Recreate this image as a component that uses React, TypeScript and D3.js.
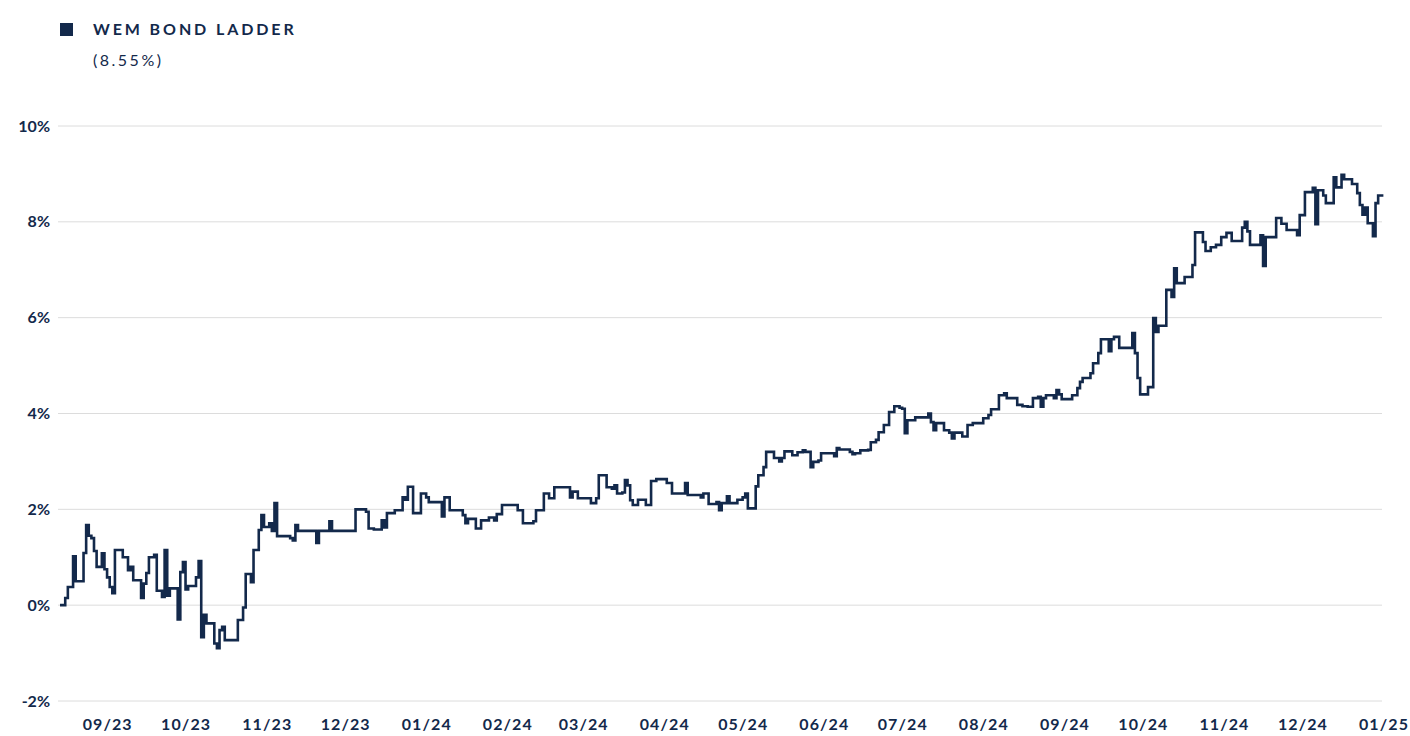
import React from "react";
import * as d3 from "d3";

const seriesName = "WEM BOND LADDER";
const lastValueLabel = "(8.55%)";

const yTicks = [-2, 0, 2, 4, 6, 8, 10];

// step series, one entry per change in value
const dates = [
  "2023-08-13", "2023-08-15", "2023-08-16", "2023-08-18", "2023-08-19", "2023-08-22", "2023-08-23", "2023-08-24",
  "2023-08-25", "2023-08-26", "2023-08-27", "2023-08-29", "2023-08-30", "2023-08-31", "2023-09-01", "2023-09-02",
  "2023-09-03", "2023-09-06", "2023-09-08", "2023-09-09", "2023-09-10", "2023-09-13", "2023-09-14", "2023-09-15",
  "2023-09-16", "2023-09-18", "2023-09-19", "2023-09-21", "2023-09-22", "2023-09-23", "2023-09-24", "2023-09-27",
  "2023-09-28", "2023-09-29", "2023-09-30", "2023-10-01", "2023-10-04", "2023-10-05", "2023-10-06", "2023-10-07",
  "2023-10-08", "2023-10-11", "2023-10-12", "2023-10-13", "2023-10-14", "2023-10-15", "2023-10-20", "2023-10-22",
  "2023-10-23", "2023-10-25", "2023-10-26", "2023-10-28", "2023-10-29", "2023-10-30", "2023-11-01", "2023-11-02",
  "2023-11-03", "2023-11-04", "2023-11-09", "2023-11-10", "2023-11-11", "2023-11-12", "2023-11-19", "2023-11-20",
  "2023-11-24", "2023-11-25", "2023-12-04", "2023-12-08", "2023-12-09", "2023-12-11", "2023-12-14", "2023-12-15",
  "2023-12-16", "2023-12-19", "2023-12-22", "2023-12-23", "2023-12-24", "2023-12-26", "2023-12-29", "2023-12-31",
  "2024-01-01", "2024-01-06", "2024-01-07", "2024-01-09", "2024-01-14", "2024-01-15", "2024-01-16", "2024-01-19",
  "2024-01-21", "2024-01-24", "2024-01-26", "2024-01-27", "2024-01-29", "2024-02-04", "2024-02-06", "2024-02-10",
  "2024-02-11", "2024-02-14", "2024-02-16", "2024-02-18", "2024-02-24", "2024-02-25", "2024-02-27", "2024-03-03",
  "2024-03-05", "2024-03-06", "2024-03-09", "2024-03-11", "2024-03-12", "2024-03-13", "2024-03-15", "2024-03-16",
  "2024-03-17", "2024-03-18", "2024-03-19", "2024-03-21", "2024-03-24", "2024-03-26", "2024-03-28", "2024-04-01",
  "2024-04-03", "2024-04-08", "2024-04-09", "2024-04-14", "2024-04-15", "2024-04-17", "2024-04-20", "2024-04-21",
  "2024-04-22", "2024-04-24", "2024-04-25", "2024-04-28", "2024-04-30", "2024-05-01", "2024-05-02", "2024-05-05",
  "2024-05-06", "2024-05-08", "2024-05-09", "2024-05-12", "2024-05-14", "2024-05-15", "2024-05-16", "2024-05-19",
  "2024-05-21", "2024-05-23", "2024-05-24", "2024-05-26", "2024-05-27", "2024-05-29", "2024-05-30", "2024-06-04",
  "2024-06-05", "2024-06-06", "2024-06-10", "2024-06-11", "2024-06-12", "2024-06-14", "2024-06-17", "2024-06-18",
  "2024-06-20", "2024-06-21", "2024-06-23", "2024-06-25", "2024-06-27", "2024-06-29", "2024-06-30", "2024-07-01",
  "2024-07-02", "2024-07-05", "2024-07-10", "2024-07-11", "2024-07-12", "2024-07-13", "2024-07-16", "2024-07-18",
  "2024-07-19", "2024-07-20", "2024-07-23", "2024-07-25", "2024-07-27", "2024-07-31", "2024-08-02", "2024-08-03",
  "2024-08-06", "2024-08-08", "2024-08-09", "2024-08-13", "2024-08-15", "2024-08-17", "2024-08-19", "2024-08-21",
  "2024-08-22", "2024-08-23", "2024-08-24", "2024-08-27", "2024-08-28", "2024-08-29", "2024-08-30", "2024-09-03",
  "2024-09-05", "2024-09-06", "2024-09-07", "2024-09-10", "2024-09-11", "2024-09-13", "2024-09-14", "2024-09-17",
  "2024-09-18", "2024-09-19", "2024-09-21", "2024-09-26", "2024-09-27", "2024-09-28", "2024-09-29", "2024-10-02",
  "2024-10-04", "2024-10-05", "2024-10-06", "2024-10-09", "2024-10-11", "2024-10-12", "2024-10-13", "2024-10-16",
  "2024-10-19", "2024-10-20", "2024-10-23", "2024-10-24", "2024-10-26", "2024-10-28", "2024-10-30", "2024-11-01",
  "2024-11-03", "2024-11-07", "2024-11-08", "2024-11-09", "2024-11-10", "2024-11-14", "2024-11-15", "2024-11-16",
  "2024-11-20", "2024-11-22", "2024-11-24", "2024-11-28", "2024-11-29", "2024-12-01", "2024-12-04", "2024-12-05",
  "2024-12-06", "2024-12-08", "2024-12-09", "2024-12-12", "2024-12-13", "2024-12-15", "2024-12-16", "2024-12-19",
  "2024-12-21", "2024-12-22", "2024-12-23", "2024-12-24", "2024-12-25", "2024-12-27", "2024-12-28", "2024-12-29",
  "2024-12-31",
];

const values = [
  0.0, 0.15, 0.38, 1.02, 0.5, 1.09, 1.67, 1.45,
  1.4, 1.13, 0.8, 1.08, 0.75, 0.58, 0.38, 0.25,
  1.15, 1.0, 0.73, 0.8, 0.52, 0.15, 0.45, 0.67,
  1.0, 1.05, 0.3, 0.17, 1.15, 0.2, 0.35, -0.3,
  0.69, 0.9, 0.33, 0.4, 0.58, 0.92, -0.67, -0.2,
  -0.38, -0.8, -0.9, -0.52, -0.45, -0.73, -0.31, -0.05,
  0.65, 0.48, 1.15, 1.57, 1.88, 1.63, 1.71, 1.55,
  2.13, 1.44, 1.4, 1.35, 1.67, 1.55, 1.3, 1.55,
  1.75, 1.55, 2.0, 1.95, 1.6, 1.58, 1.77, 1.62,
  1.92, 1.98, 2.25, 2.2, 2.47, 1.92, 2.33, 2.25,
  2.15, 1.85, 2.25, 1.98, 1.88, 1.71, 1.8, 1.6,
  1.77, 1.83, 1.77, 1.9, 2.09, 1.98, 1.71, 1.75,
  1.98, 2.33, 2.23, 2.46, 2.25, 2.37, 2.23, 2.13,
  2.23, 2.71, 2.46, 2.43, 2.5, 2.33, 2.35, 2.61,
  2.5, 2.19, 2.09, 2.2, 2.09, 2.59, 2.63, 2.55,
  2.33, 2.55, 2.3, 2.25, 2.33, 2.11, 2.15, 1.98,
  2.13, 2.27, 2.13, 2.2, 2.25, 2.33, 2.02, 2.48,
  2.71, 2.88, 3.2, 3.07, 3.0, 3.07, 3.21, 3.13,
  3.19, 3.23, 3.2, 2.88, 2.99, 3.02, 3.17, 3.11,
  3.28, 3.25, 3.2, 3.15, 3.17, 3.23, 3.24, 3.4,
  3.45, 3.61, 3.76, 4.03, 4.15, 4.12, 4.1, 3.59,
  3.86, 3.92, 4.0, 3.82, 3.65, 3.8, 3.65, 3.6,
  3.48, 3.6, 3.52, 3.76, 3.8, 3.9, 3.97, 4.09,
  4.38, 4.42, 4.32, 4.18, 4.15, 4.14, 4.32, 4.35,
  4.14, 4.32, 4.38, 4.32, 4.49, 4.4, 4.3, 4.38,
  4.53, 4.66, 4.74, 4.84, 5.05, 5.26, 5.55, 5.3,
  5.55, 5.6, 5.37, 5.68, 5.26, 4.74, 4.4, 4.55,
  5.99, 5.7, 5.83, 6.58, 6.43, 7.03, 6.72, 6.85,
  7.1, 7.78, 7.58, 7.39, 7.47, 7.52, 7.68, 7.77,
  7.6, 7.88, 8.0, 7.8, 7.52, 7.72, 7.08, 7.68,
  8.08, 7.96, 7.83, 7.72, 8.14, 8.62, 8.71, 7.95,
  8.66, 8.55, 8.39, 8.93, 8.72, 8.98, 8.89, 8.79,
  8.6, 8.35, 8.15, 8.3, 7.97, 7.7, 8.39, 8.55,
  8.55,
];

const navy = "#13294b";
const W = 1410;
const H = 736;
const margin = { left: 60, right: 24, top: 126, bottom: 35 };

const parse = d3.timeParse("%Y-%m-%d");
const fmt = d3.timeFormat("%m/%y");

export default function App() {
  const data = dates.map((d, i) => ({ date: parse(d) as Date, value: values[i] }));

  const x = d3
    .scaleTime()
    .domain([new Date(2023, 7, 13), new Date(2025, 0, 1)])
    .range([margin.left, W - margin.right]);
  const y = d3
    .scaleLinear()
    .domain([-2, 10])
    .range([H - margin.bottom, margin.top]);

  const line = d3
    .line<{ date: Date; value: number }>()
    .x((d) => x(d.date))
    .y((d) => y(d.value))
    .curve(d3.curveStepAfter);

  const monthTicks = d3.timeMonth.range(new Date(2023, 8, 1), new Date(2025, 0, 2));

  return (
    <svg
      width={W}
      height={H}
      style={{ position: "absolute", left: 0, top: 0, fontFamily: "Lato, sans-serif" }}
    >
      <rect x={60} y={23} width={13} height={13} fill={navy} />
      <text x={93} y={35} fontSize={16} fontWeight={700} fill={navy} letterSpacing={2.9}>
        {seriesName}
      </text>
      <text x={93} y={66} fontSize={16} fill={navy} letterSpacing={2.5}>
        {lastValueLabel}
      </text>

      {yTicks.map((t) => (
        <g key={t}>
          <line x1={58} x2={W - 28} y1={y(t)} y2={y(t)} stroke="#dcdcdc" strokeWidth={1} />
          <text
            x={50}
            y={y(t)}
            dy="0.35em"
            textAnchor="end"
            fontSize={16}
            fontWeight={700}
            fill={navy}
          >
            {t}%
          </text>
        </g>
      ))}

      {monthTicks.map((m) => (
        <text
          key={m.getTime()}
          x={x(m) - 2}
          y={730}
          textAnchor="middle"
          fontSize={16}
          fontWeight={700}
          fill={navy}
          letterSpacing={1.1}
        >
          {fmt(m)}
        </text>
      ))}

      <path
        d={line(data) ?? ""}
        fill="none"
        stroke={navy}
        strokeWidth={2.6}
        strokeLinejoin="miter"
      />
    </svg>
  );
}
